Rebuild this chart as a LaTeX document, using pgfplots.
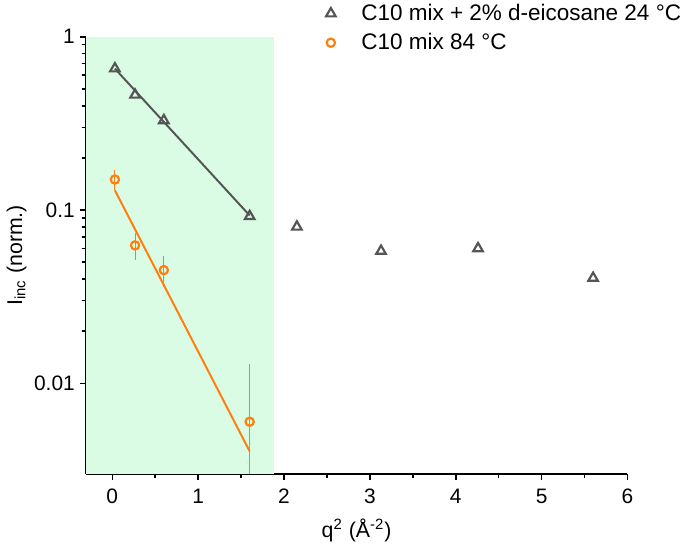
\documentclass[border=0pt]{standalone}
\usepackage{fontspec}
\setmainfont{Liberation Sans}
\usepackage{pgfplots}
\pgfplotsset{compat=1.18}

\definecolor{tri}{HTML}{555555}
\definecolor{org}{HTML}{FF7F0E}
\definecolor{shade}{HTML}{DAFBE4}

\begin{document}
\begin{tikzpicture}
  \begin{axis}[
    scale only axis,
    width=274.5pt, height=221.5pt,
    ymode=log,
    xmin=-0.31, xmax=6,
    ymin=0.003, ymax=1,
    axis x line*=bottom, axis y line*=left,
    axis line style={line width=1pt, -},
    tick align=outside,
    tick style={line width=0.8pt, black},
    major tick length=3pt, minor tick length=2pt,
    xtick={0,1,2,3,4,5,6},
    minor x tick num=1,
    ytick={0.01,0.1,1},
    yticklabels={0.01,0.1,1},
    /pgf/number format/assume math mode=true,
    ticklabel style={font=\fontsize{10.6}{12}\selectfont},
    xticklabel style={yshift=-1pt},
    yticklabel style={xshift=1pt},
    xlabel={q\textsuperscript{2} (Å\textsuperscript{-2})},
    ylabel={I\textsubscript{inc} (norm.)},
    label style={font=\fontsize{10.8}{12}\selectfont},
    xlabel style={yshift=-1pt},
    ylabel style={yshift=-3pt},
    legend style={at={(rel axis cs:0.443,1.085)}, anchor=north west,
      draw=none, fill=none, font=\fontsize{11.4}{13}\selectfont,
      row sep=1pt, column sep=11pt, inner sep=0pt},
    legend cell align=left,
    legend image code/.code={\draw[#1] plot coordinates {(0cm,0cm)};},
    clip=false,
  ]
    \addplot[fill=shade, draw=none, forget plot]
      coordinates {(-0.31,0.003) (1.885,0.003) (1.885,1) (-0.31,1)} -- cycle;

    \addplot[only marks, mark=triangle, mark size=2.8pt,
      mark options={line width=1.1pt, draw=tri, fill=none}]
      coordinates {
        (0.03,0.655) (0.265,0.462) (0.6,0.329) (1.6,0.092)
        (2.15,0.080) (3.13,0.058) (4.26,0.060) (5.6,0.0405)
      };
    \addlegendentry{C10 mix + 2\% d-eicosane 24 °C}

    \addplot[only marks, mark=o, mark size=2.1pt, color=org,
      mark options={line width=1.1pt, fill=white},
      error bars/.cd, y dir=both, y explicit,
      error mark=none, error bar style={line width=0.4pt, color=org}]
      coordinates {
        (0.03,0.150) +- (0,0.02)
        (0.265,0.0625) +- (0,0.011)
        (0.6,0.045) +- (0,0.009)
        (1.6,0.006) += (0,0.007) -= (0,0.0030)
      };
    \addlegendentry{C10 mix 84 °C}

    \addplot[tri, line width=1pt, forget plot]
      coordinates {(0.03,0.655) (1.6,0.093)};
    \addplot[org, line width=1pt, forget plot]
      coordinates {(0.03,0.130) (1.6,0.00405)};
  \end{axis}
\end{tikzpicture}
\end{document}
